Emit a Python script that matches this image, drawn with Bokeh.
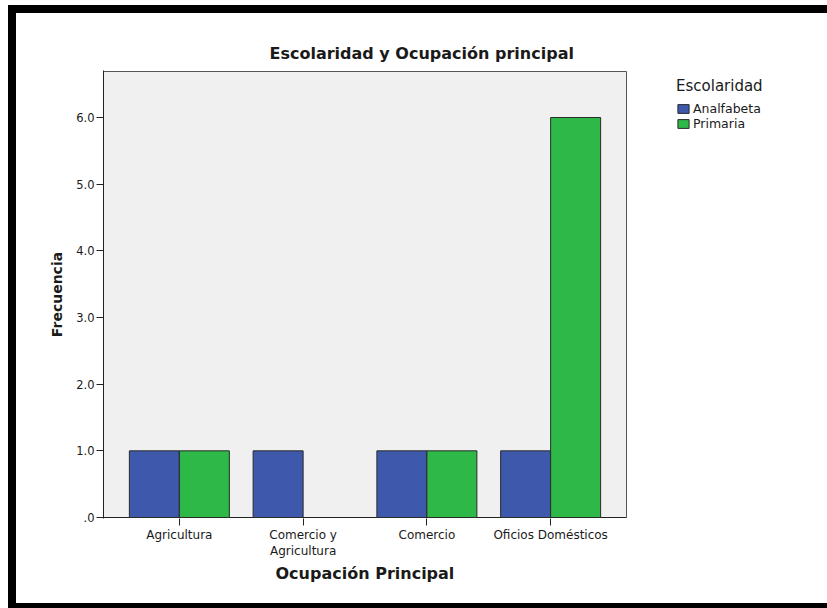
from bokeh.plotting import figure
from bokeh.models import (FixedTicker, Range1d, Legend, LegendItem, ColumnDataSource,
                          BoxAnnotation, Title)
from bokeh.embed import file_html
from bokeh.resources import INLINE

# ---- data ----
categories = ["Agricultura", "Comercio y\nAgricultura", "Comercio", "Oficios Domésticos"]
series = ["Analfabeta", "Primaria"]
analfabeta = [1, 1, 1, 1]
primaria = [1, 0, 1, 6]
y_ticks = [0, 1, 2, 3, 4, 5, 6]
y_tick_labels = [".0", "1.0", "2.0", "3.0", "4.0", "5.0", "6.0"]

title_text = "Escolaridad y Ocupación principal"
x_label = "Ocupación Principal"
y_label = "Frecuencia"
legend_title = "Escolaridad"

# ---- style ----
FONT = "DejaVu Sans"
COLORS = ["#3E58AC", "#2EB848"]
BAR_W = 0.404
W, H = 819, 603              # host size incl. black frame edges (border-box)
BOX_X0, BOX_X1 = -0.613, 3.613   # visible plot-area box (x units)
BOX_Y1 = 6.69                    # visible plot-area top
FRAME_W_PX, BOX_W_PX = 712, 523
XR_END = BOX_X0 + FRAME_W_PX * (BOX_X1 - BOX_X0) / BOX_W_PX

p = figure(width=W, height=H, output_backend="svg", toolbar_location=None,
           x_range=Range1d(BOX_X0, XR_END),
           y_range=Range1d(-0.015, BOX_Y1 + 0.015),
           min_border_left=87, min_border_right=20,
           min_border_top=57, min_border_bottom=98)

# black picture frame (left, top, bottom edges)
p.styles = {"box-sizing": "border-box", "overflow": "hidden", "vertical-align": "top",
            "margin-left": "8px", "margin-top": "5px",
            "border-left": "8px solid black", "border-top": "8px solid black",
            "border-bottom": "5px solid black"}

p.background_fill_color = "white"
p.border_fill_color = "white"
p.outline_line_color = None
p.grid.visible = False

# plot-area box
p.add_layout(BoxAnnotation(left=BOX_X0, right=BOX_X1, bottom=0, top=BOX_Y1,
                           fill_color="#F0F0F0", fill_alpha=1, line_alpha=0,
                           level="underlay"))
p.segment(x0=[BOX_X0, BOX_X1], y0=[BOX_Y1, 0], x1=[BOX_X1, BOX_X1], y1=[BOX_Y1, BOX_Y1],
          line_color="#555555", line_width=1)
p.segment(x0=[BOX_X0], y0=[0], x1=[BOX_X1], y1=[0], line_color="#222222", line_width=1)

renderers = []
for s_i, (name, vals) in enumerate(zip(series, [analfabeta, primaria])):
    off = (s_i - 0.5) * BAR_W
    xs = [i + off for i, v in enumerate(vals) if v > 0]
    tops = [v for v in vals if v > 0]
    src = ColumnDataSource(dict(x=xs, top=tops))
    r = p.vbar(x="x", top="top", bottom=0, width=BAR_W, source=src,
               fill_color=COLORS[s_i], line_color="#2a2a2a", line_width=1)
    renderers.append(r)

# title
p.title.text = title_text
p.title.text_font = FONT
p.title.text_font_size = "16px"
p.title.text_font_style = "bold"
p.title.text_color = "#1a1a1a"
p.title.align = "left"
p.title.offset = 166
p.title.standoff = 16

# x axis
xa = p.xaxis[0]
xa.ticker = FixedTicker(ticks=list(range(len(categories))))
xa.major_label_overrides = {i: c for i, c in enumerate(categories)}
xa.major_tick_out = 7
xa.major_tick_in = 0
xa.minor_tick_out = 0
xa.minor_tick_in = 0
xa.major_label_standoff = 2
xa.major_label_text_font = FONT
xa.major_label_text_font_size = "12px"
xa.major_label_text_color = "#1a1a1a"
xa.axis_line_color = None
xa.major_tick_line_color = "#222222"

p.add_layout(Title(text=x_label, text_font=FONT, text_font_size="16px",
                   text_font_style="bold", text_color="#1a1a1a",
                   align="left", offset=172, standoff=0), "below")

# y axis
ya = p.yaxis[0]
ya.ticker = FixedTicker(ticks=y_ticks)
ya.major_label_overrides = {t: l for t, l in zip(y_ticks, y_tick_labels)}
ya.major_tick_out = 7
ya.major_tick_in = 0
ya.minor_tick_out = 0
ya.minor_tick_in = 0
ya.major_label_standoff = 2
ya.major_label_text_font = FONT
ya.major_label_text_font_size = "11.5px"
ya.major_label_text_color = "#1a1a1a"
ya.axis_label = y_label
ya.axis_label_text_font = FONT
ya.axis_label_text_font_size = "14px"
ya.axis_label_text_font_style = "bold"
ya.axis_label_text_color = "#1a1a1a"
ya.axis_label_standoff = 8
ya.axis_line_color = "#222222"
ya.major_tick_line_color = "#222222"

# legend
legend = Legend(items=[LegendItem(label=n, renderers=[r]) for n, r in zip(series, renderers)],
                location=(573, 387), title=legend_title,
                title_text_font=FONT, title_text_font_size="15px",
                title_text_font_style="normal", title_text_color="#1a1a1a",
                title_standoff=6,
                label_text_font=FONT, label_text_font_size="12.5px",
                label_text_color="#1a1a1a",
                glyph_width=14, glyph_height=11, label_standoff=3,
                label_height=11, spacing=0, padding=0, margin=0,
                border_line_alpha=0, background_fill_alpha=0)
p.add_layout(legend, "center")

open("out.html", "w").write(file_html(p, INLINE))
